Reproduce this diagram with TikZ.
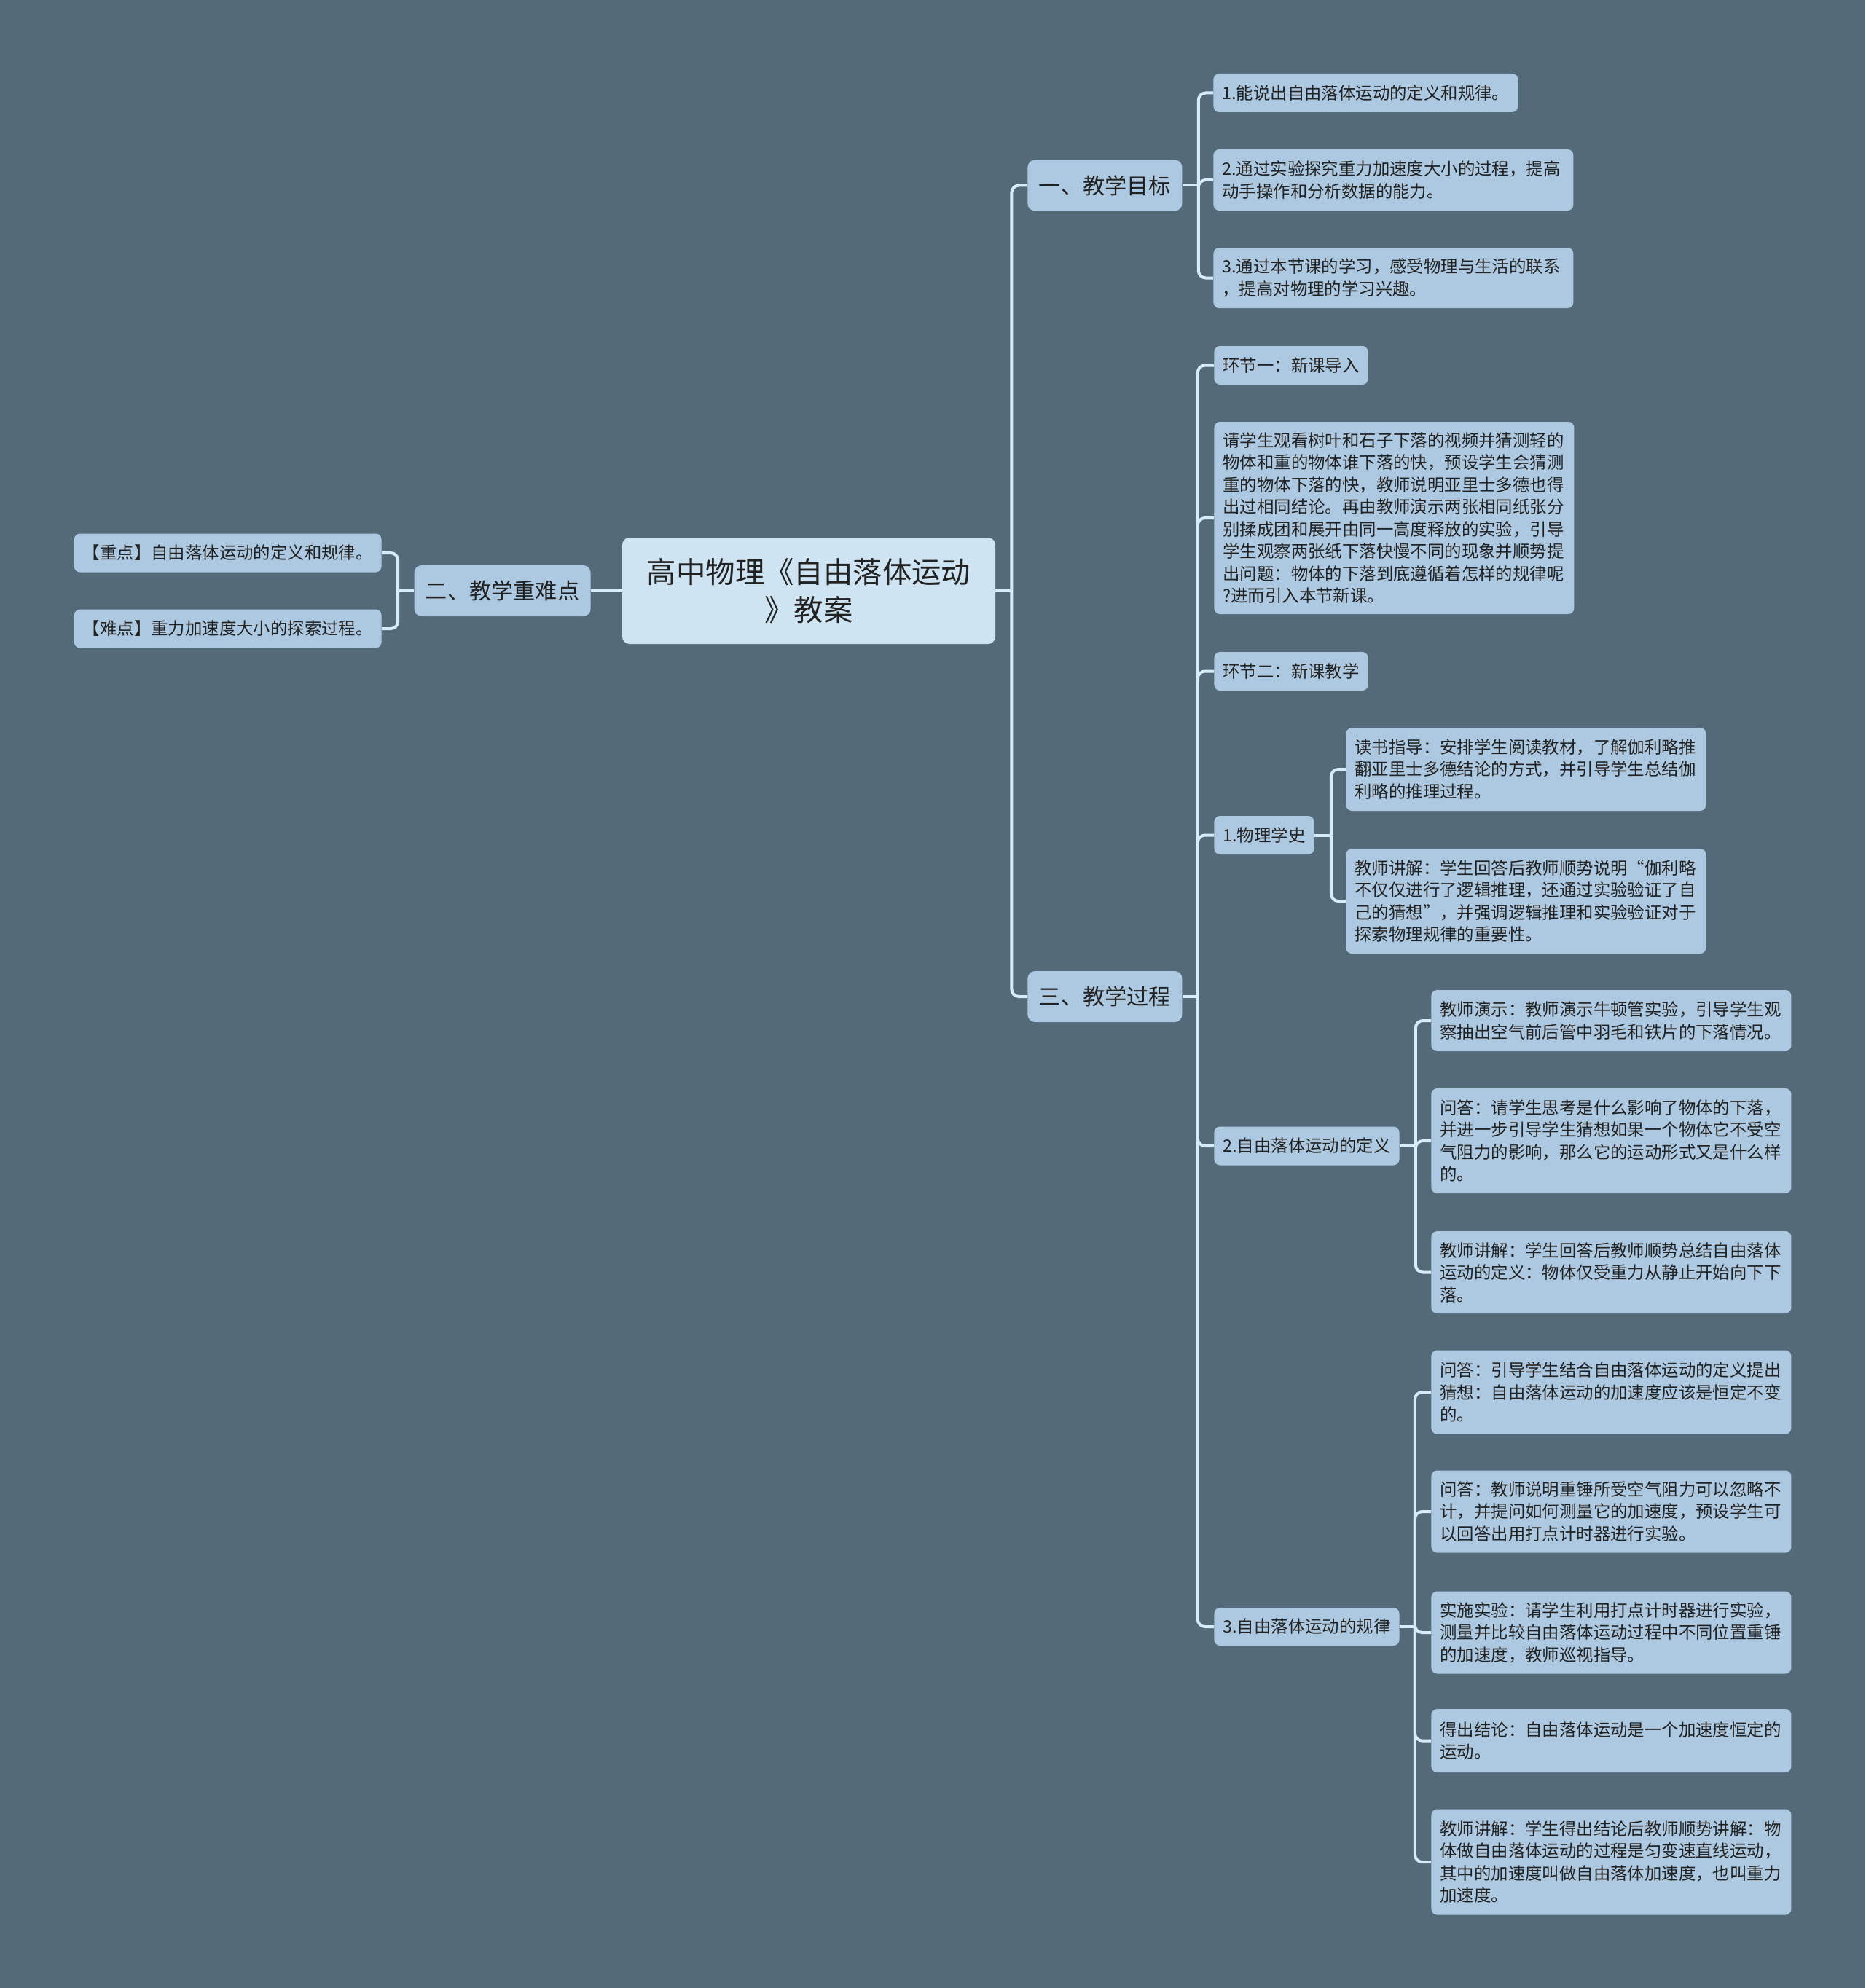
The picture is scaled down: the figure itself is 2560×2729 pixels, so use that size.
\documentclass[tikz,border=0pt]{standalone}
\usepackage{fontspec}
\setmainfont{Noto Sans CJK SC}
\usepackage{xcolor}
\usepackage{tikz}

\definecolor{bgslate}{HTML}{546A79}
\definecolor{cardfill}{HTML}{ADC9E1}
\definecolor{topicfill}{HTML}{CFE4F2}
\definecolor{linkcol}{HTML}{D8ECF7}
\definecolor{inkcol}{HTML}{222222}

\begin{document}
\begin{tikzpicture}[
        x=0.5pt,
        y=-0.5pt,
        topic/.style={
            fill=topicfill,
            rounded corners=5pt,
            text=inkcol,
            align=center,
            font=\fontsize{20.2pt}{26pt}\selectfont,
            minimum width=256pt,
            minimum height=73pt,
            inner sep=0pt
        },
        branch/.style={
            fill=cardfill,
            rounded corners=5pt,
            text=inkcol,
            font=\fontsize{15.1pt}{19pt}\selectfont,
            minimum height=35pt,
            inner xsep=7.5pt
        },
        card/.style={
            fill=cardfill,
            rounded corners=4pt,
            text=inkcol,
            align=left,
            font=\fontsize{11.7pt}{15.25pt}\selectfont,
            inner xsep=6pt,
            inner ysep=0pt,
            anchor=west
        },
        wide/.style={card, text width=235pt},
        link/.style={draw=linkcol, line width=2pt, rounded corners=5pt}
    ]
        % Canvas: 2560 x 2729 px, y runs downwards.
        \fill[bgslate] (0,0) rectangle (2560,2729);
        \useasboundingbox (0,0) rectangle (2560,2729);

        \node[topic] (root) at (1110,811) {高中物理《自由落体运动\\》教案};
        \node[branch, anchor=west, minimum width=106pt] (goals) at (1410,254.5) {一、教学目标};
        \node[branch, anchor=east, minimum width=121pt] (keys) at (811,811) {二、教学重难点};
        \node[branch, anchor=west, minimum width=106pt] (steps) at (1410,1368) {三、教学过程};

        % left side
        \node[card, anchor=east, minimum height=26.5pt] (key1) at (524,759) {【重点】自由落体运动的定义和规律。};
        \node[card, anchor=east, minimum height=26.5pt] (key2) at (524,863) {【难点】重力加速度大小的探索过程。};

        % teaching goals
        \node[card, minimum height=26.5pt] (goal1) at (1665,127.5) {1.能说出自由落体运动的定义和规律。};
        \node[wide, minimum height=42pt] (goal2) at (1665,247) {2.通过实验探究重力加速度大小的过程，提高\\动手操作和分析数据的能力。};
        \node[wide, minimum height=41.5pt] (goal3) at (1665,381.5) {3.通过本节课的学习，感受物理与生活的联系\\，提高对物理的学习兴趣。};

        % teaching process
        \node[card, minimum height=26.5pt] (step1) at (1666,501.5) {环节一：新课导入};
        \node[wide, minimum height=132pt] (intro) at (1666,711) {请学生观看树叶和石子下落的视频并猜测轻的\\物体和重的物体谁下落的快，预设学生会猜测\\重的物体下落的快，教师说明亚里士多德也得\\出过相同结论。再由教师演示两张相同纸张分\\别揉成团和展开由同一高度释放的实验，引导\\学生观察两张纸下落快慢不同的现象并顺势提\\出问题：物体的下落到底遵循着怎样的规律呢\\?进而引入本节新课。};
        \node[card, minimum height=26.5pt] (step2) at (1666,921.5) {环节二：新课教学};
        \node[card, minimum height=26.5pt] (hist) at (1666,1146.5) {1.物理学史};
        \node[card, minimum height=26.5pt] (defn) at (1666,1573) {2.自由落体运动的定义};
        \node[card, minimum height=26pt] (law) at (1666,2233) {3.自由落体运动的规律};

        \node[wide, minimum height=57pt] (hist1) at (1847,1056) {读书指导：安排学生阅读教材，了解伽利略推\\翻亚里士多德结论的方式，并引导学生总结伽\\利略的推理过程。};
        \node[wide, minimum height=72pt] (hist2) at (1847,1237) {教师讲解：学生回答后教师顺势说明“伽利略\\不仅仅进行了逻辑推理，还通过实验验证了自\\己的猜想”，并强调逻辑推理和实验验证对于\\探索物理规律的重要性。};

        \node[wide, minimum height=42pt] (defn1) at (1964,1401) {教师演示：教师演示牛顿管实验，引导学生观\\察抽出空气前后管中羽毛和铁片的下落情况。};
        \node[wide, minimum height=72pt] (defn2) at (1964,1566) {问答：请学生思考是什么影响了物体的下落，\\并进一步引导学生猜想如果一个物体它不受空\\气阻力的影响，那么它的运动形式又是什么样\\的。};
        \node[wide, minimum height=56.5pt] (defn3) at (1964,1746.5) {教师讲解：学生回答后教师顺势总结自由落体\\运动的定义：物体仅受重力从静止开始向下下\\落。};

        \node[wide, minimum height=57.5pt] (law1) at (1964,1911) {问答：引导学生结合自由落体运动的定义提出\\猜想：自由落体运动的加速度应该是恒定不变\\的。};
        \node[wide, minimum height=56.5pt] (law2) at (1964,2075) {问答：教师说明重锤所受空气阻力可以忽略不\\计，并提问如何测量它的加速度，预设学生可\\以回答出用打点计时器进行实验。};
        \node[wide, minimum height=56.5pt] (law3) at (1964,2241) {实施实验：请学生利用打点计时器进行实验，\\测量并比较自由落体运动过程中不同位置重锤\\的加速度，教师巡视指导。};
        \node[wide, minimum height=43.5pt] (law4) at (1964,2389.5) {得出结论：自由落体运动是一个加速度恒定的\\运动。};
        \node[wide, minimum height=72.5pt] (law5) at (1964,2556) {教师讲解：学生得出结论后教师顺势讲解：物\\体做自由落体运动的过程是匀变速直线运动，\\其中的加速度叫做自由落体加速度，也叫重力\\加速度。};

        % connectors
        \draw[link] (root.west) -- (keys.east);
        \draw[link] (root.east) -- ++(22,0) coordinate (rootj);
        \foreach \c in {goals,steps} \draw[link] (rootj) |- (\c.west);
        \draw[link] (keys.west) -- ++(-22,0) coordinate (keysj);
        \foreach \c in {key1,key2} \draw[link] (keysj) |- (\c.east);
        \draw[link] (goals.east) -- ++(22,0) coordinate (goalsj);
        \foreach \c in {goal1,goal2,goal3} \draw[link] (goalsj) |- (\c.west);
        \draw[link] (steps.east) -- ++(21,0) coordinate (stepsj);
        \foreach \c in {step1,intro,step2,hist,defn,law} \draw[link] (stepsj) |- (\c.west);
        \draw[link] (hist.east) -- ++(23,0) coordinate (histj);
        \foreach \c in {hist1,hist2} \draw[link] (histj) |- (\c.west);
        \draw[link] (defn.east) -- ++(22,0) coordinate (defnj);
        \foreach \c in {defn1,defn2,defn3} \draw[link] (defnj) |- (\c.west);
        \draw[link] (law.east) -- ++(21,0) coordinate (lawj);
        \foreach \c in {law1,law2,law3,law4,law5} \draw[link] (lawj) |- (\c.west);

    \end{tikzpicture}
\end{document}
